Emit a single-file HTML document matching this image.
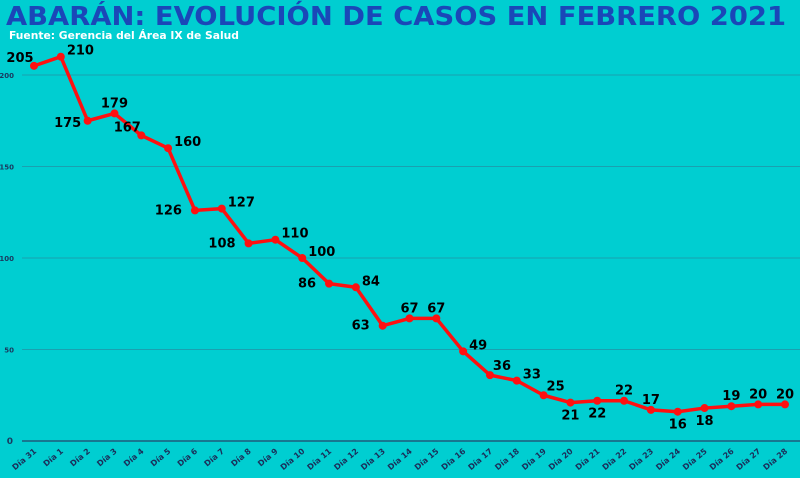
<!DOCTYPE html>
<html><head><meta charset="utf-8"><style>
html,body{margin:0;padding:0;background:#00CED1;}
svg{display:block;font-family:"DejaVu Sans","Liberation Sans",sans-serif;}
</style></head><body>
<svg id="chart" width="800" height="478" viewBox="0 0 800 478">
<rect width="800" height="478" fill="#00CED1"/>
<text x="6" y="25" font-size="26" font-weight="bold" fill="#1a47b8" textLength="780" lengthAdjust="spacingAndGlyphs">ABARÁN: EVOLUCIÓN DE CASOS EN FEBRERO 2021</text>
<text x="9" y="39" font-size="11" font-weight="bold" fill="#ffffff" textLength="230" lengthAdjust="spacingAndGlyphs">Fuente: Gerencia del Área IX de Salud</text>
<g id="grid"></g><g id="xlabels"></g><g id="series"></g><g id="vlabels"></g>
</svg>
<script>
const categories=["Día 31","Día 1","Día 2","Día 3","Día 4","Día 5","Día 6","Día 7","Día 8","Día 9","Día 10","Día 11","Día 12","Día 13","Día 14","Día 15","Día 16","Día 17","Día 18","Día 19","Día 20","Día 21","Día 22","Día 23","Día 24","Día 25","Día 26","Día 27","Día 28"];
const values=[205,210,175,179,167,160,126,127,108,110,100,86,84,63,67,67,49,36,33,25,21,22,22,17,16,18,19,20,20];
const yTicks=[0,50,100,150,200];
const labelPos=["al","r","bl","a","al","r","l","r","l","r","r","l","r","l","a","a","r","ar","r","ar","b","b","a","a","b","b","a","a","a"];
const NS="http://www.w3.org/2000/svg";
const x0=34,x1=785,yBase=441,yTop=75;
function xs(i){return x0+(x1-x0)*i/(categories.length-1);}
function ys(v){return yBase-(yBase-yTop)*v/200;}
function mk(tag,attrs,parent){const e=document.createElementNS(NS,tag);for(const k in attrs)e.setAttribute(k,attrs[k]);parent.appendChild(e);return e;}
const grid=document.getElementById('grid');
yTicks.forEach(t=>{
  const l=mk('line',{x1:22,x2:800,y1:ys(t),y2:ys(t),stroke:t===0?'#1f5a7a':'#1aa0b0','stroke-width':t===0?1.5:1},grid);
  
  
  const tx=mk('text',{x:t===0?13:14,y:ys(t)+3,'font-size':t===0?9:7,'font-weight':'bold',fill:'#1a3a60','text-anchor':'end'},grid);
  tx.textContent=t;
  
  
});
const xl=document.getElementById('xlabels');
categories.forEach((c,i)=>{
  const x=xs(i)+3,y=452;
  const t=mk('text',{x:x,y:y,'font-size':8,'font-weight':'bold',fill:'#1a2f5a','text-anchor':'end',transform:`rotate(-40 ${x} ${y})`},xl);
  t.textContent=c;
  
  
});
const s=document.getElementById('series');
const line=mk('polyline',{points:values.map((v,i)=>xs(i)+','+ys(v)).join(' '),fill:'none',stroke:'#ff1010','stroke-width':3.5,'stroke-linejoin':'round'},s);


values.forEach((v,i)=>{
  const c=mk('circle',{cx:xs(i),cy:ys(v),r:4,fill:'#ff1010'},s);
  
  
});
const vl=document.getElementById('vlabels');
const off={l:[-13,4],r:[6,-2],a:[0,-6],b:[0,17],al:[-14,-4],ar:[12,-5],bl:[-20,6]};
const anc={l:'end',r:'start',a:'middle',b:'middle',al:'middle',ar:'middle',bl:'middle'};
values.forEach((v,i)=>{
  const p=labelPos[i],o=off[p];
  const t=mk('text',{x:xs(i)+o[0],y:ys(v)+o[1],'font-size':13,'font-weight':'bold',fill:'#000','text-anchor':anc[p]},vl);
  t.textContent=v;
  
  
});
</script>
</body></html>
